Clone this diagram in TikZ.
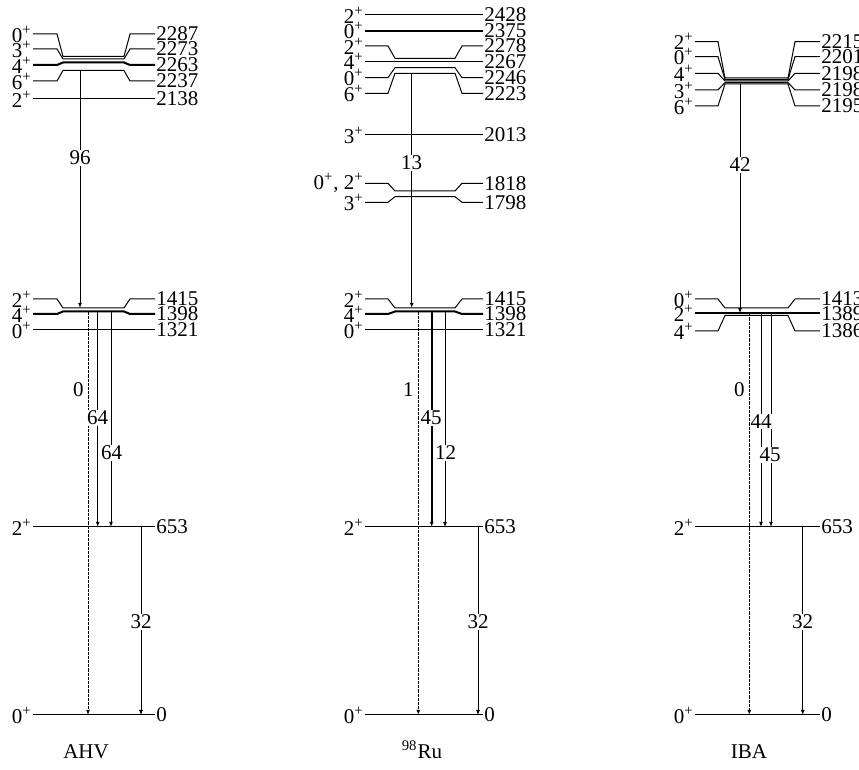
\documentclass[tikz,border=0pt]{standalone}
\usepackage{fontspec}
\setmainfont{Liberation Serif}
\usetikzlibrary{arrows.meta}

% spin label with parity
\newcommand{\jp}[1]{#1\textsuperscript{+}}
% straight and bent levels, x positions from \xL \xA \xB \xC \xD \xR
\newcommand{\flatlvl}[5][]{%
  \draw[level,#1] (\xL,#3) coordinate (#2) -- (\xR,#3);
  \node[spin] (#2-j) at (\xL,#3) {#4};
  \node[ener] (#2-e) at (\xR,#3) {#5};}
\newcommand{\bentlvl}[6][]{%
  \draw[level,#1] (\xL,#3) coordinate (#2) -- (\xA,#3) -- (\xB,#4) -- (\xC,#4) -- (\xD,#3) -- (\xR,#3);
  \node[spin] (#2-j) at (\xL,#3) {#5};
  \node[ener] (#2-e) at (\xR,#3) {#6};}

\begin{document}
\begin{tikzpicture}[x=0.5pt,y=-0.5pt,
  font=\fontsize{10.5}{12}\selectfont,
  level/.style={line width=0.5pt},
  strong/.style={line width=1pt},
  spin/.style={anchor=east, inner sep=0.5pt},
  ener/.style={anchor=west, inner sep=0.5pt},
  tip/.style={-{Latex[length=2.6pt,width=2pt]}},
  feed/.style={tip, line width=0.5pt},
  gam/.style={tip, line width=0.5pt},
  gbold/.style={tip, line width=0.9pt},
  gthin/.style={tip, line width=0.3pt},
  gdash/.style={tip, line width=0.5pt, dash pattern=on 1.6pt off 0.5pt},
  glab/.style={fill=white, inner sep=0.4pt},
  dlab/.style={anchor=east, inner sep=0.5pt}
]
\useasboundingbox (0,0) rectangle (859,770);

% AHV
\begin{scope}
\def\xL{33}\def\xA{57}\def\xB{63}\def\xC{124}\def\xD{130}\def\xR{155}
\bentlvl{a2287}{34}{56.5}{\jp0}{2287}
\bentlvl{a2273}{49}{59}{\jp3}{2273}
\bentlvl[strong]{a2263}{65}{62.5}{\jp4}{2263}
\bentlvl{a2237}{81}{70.5}{\jp6}{2237}
\flatlvl{a2138}{99}{\jp2}{2138}
\bentlvl{a1415}{299}{308}{\jp2}{1415}
\bentlvl[strong]{a1398}{314}{311.5}{\jp4}{1398}
\flatlvl{a1321}{330}{\jp0}{1321}
\flatlvl{a653}{527}{\jp2}{653}
\flatlvl{a0}{715}{\jp0}{0}
\coordinate (a-f0) at (80,70.5);   \coordinate (a-f1) at (80,308);
\coordinate (a-d0) at (88,311.5);  \coordinate (a-d1) at (88,715);
\coordinate (a-s0) at (97.7,311.5);\coordinate (a-s1) at (97.7,527);
\coordinate (a-t0) at (111,311.5); \coordinate (a-t1) at (111,527);
\coordinate (a-g0) at (141,527);   \coordinate (a-g1) at (141,715);
\draw[feed] (a-f0) -- (a-f1);
\draw[gdash] (a-d0) -- (a-d1);
\draw[gam] (a-s0) -- (a-s1);
\draw[gam] (a-t0) -- (a-t1);
\draw[gthin] (a-g0) -- (a-g1);
\node[glab] (a-l96) at (80,158) {96};
\node[dlab] (a-l0) at (85,390) {0};
\node[glab] (a-l64a) at (97.7,418) {64};
\node[glab] (a-l64b) at (111.5,453) {64};
\node[glab] (a-l32) at (141,622) {32};
\node (ahv) at (86,752) {AHV};
\end{scope}

% 98Ru
\begin{scope}
\def\xL{365}\def\xA{388}\def\xB{395}\def\xC{455}\def\xD{462}\def\xR{483}
\flatlvl{r2428}{15}{\jp2}{2428}
\flatlvl[strong]{r2375}{30.7}{\jp0}{2375}
\bentlvl{r2278}{46}{58.3}{\jp2}{2278}
\flatlvl{r2267}{61.7}{\jp4}{2267}
\bentlvl{r2246}{77.7}{67.7}{\jp0}{2246}
\bentlvl{r2223}{93.3}{73.3}{\jp6}{2223}
\flatlvl{r2013}{135}{\jp3}{2013}
\bentlvl{r1818}{183.3}{191}{\jp0, \jp2}{1818}
\bentlvl{r1798}{202.3}{196.7}{\jp3}{1798}
\bentlvl{r1415}{299}{308}{\jp2}{1415}
\bentlvl[strong]{r1398}{314}{311.5}{\jp4}{1398}
\flatlvl{r1321}{330}{\jp0}{1321}
\flatlvl{r653}{527}{\jp2}{653}
\flatlvl{r0}{715}{\jp0}{0}
\coordinate (r-f0) at (411.7,73.3);  \coordinate (r-f1) at (411.7,308);
\coordinate (r-d0) at (418.3,311.5); \coordinate (r-d1) at (418.3,715);
\coordinate (r-s0) at (431.7,311.5); \coordinate (r-s1) at (431.7,527);
\coordinate (r-t0) at (445,311.5);   \coordinate (r-t1) at (445,527);
\coordinate (r-g0) at (478,527);     \coordinate (r-g1) at (478,715);
\draw[feed] (r-f0) -- (r-f1);
\draw[gdash] (r-d0) -- (r-d1);
\draw[gbold] (r-s0) -- (r-s1);
\draw[gthin] (r-t0) -- (r-t1);
\draw[gthin] (r-g0) -- (r-g1);
\node[glab] (r-l13) at (411.7,163) {13};
\node[dlab] (r-l1) at (415,390) {1};
\node[glab] (r-l45) at (431,418) {45};
\node[glab] (r-l12) at (445.5,453) {12};
\node[glab] (r-l32) at (478,622) {32};
\node (ru) at (422,750) {\textsuperscript{98}Ru};
\end{scope}

% IBA
\begin{scope}
\def\xL{695}\def\xA{718}\def\xB{725}\def\xC{788}\def\xD{795}\def\xR{820}
\bentlvl{i2215}{41.7}{78}{\jp2}{2215}
\bentlvl{i2201}{56.7}{79.5}{\jp0}{2201}
\bentlvl{i2198a}{73.3}{81}{\jp4}{2198}
\bentlvl{i2198b}{90}{82.5}{\jp3}{2198}
\bentlvl{i2195}{106}{84}{\jp6}{2195}
\bentlvl{i1413}{299}{308}{\jp0}{1413}
\flatlvl[strong]{i1389}{313.3}{\jp2}{1389}
\bentlvl{i1386}{331}{315.5}{\jp4}{1386}
\flatlvl{i653}{527}{\jp2}{653}
\flatlvl{i0}{715}{\jp0}{0}
\coordinate (i-f0) at (740,84);      \coordinate (i-f1) at (740,313.3);
\coordinate (i-d0) at (749.3,313.3); \coordinate (i-d1) at (749.3,715);
\coordinate (i-s0) at (761,313.3);   \coordinate (i-s1) at (761,527);
\coordinate (i-t0) at (771,313.3);   \coordinate (i-t1) at (771,527);
\coordinate (i-g0) at (802.7,527);   \coordinate (i-g1) at (802.7,715);
\draw[feed] (i-f0) -- (i-f1);
\draw[gdash] (i-d0) -- (i-d1);
\draw[gam] (i-s0) -- (i-s1);
\draw[gam] (i-t0) -- (i-t1);
\draw[gthin] (i-g0) -- (i-g1);
\node[glab] (i-l42) at (740,165) {42};
\node[dlab] (i-l0) at (746,390) {0};
\node[glab] (i-l44) at (761,421.7) {44};
\node[glab] (i-l45) at (770,455) {45};
\node[glab] (i-l32) at (802.7,622) {32};
\node (iba) at (749,752) {IBA};
\end{scope}
\end{tikzpicture}
\end{document}
